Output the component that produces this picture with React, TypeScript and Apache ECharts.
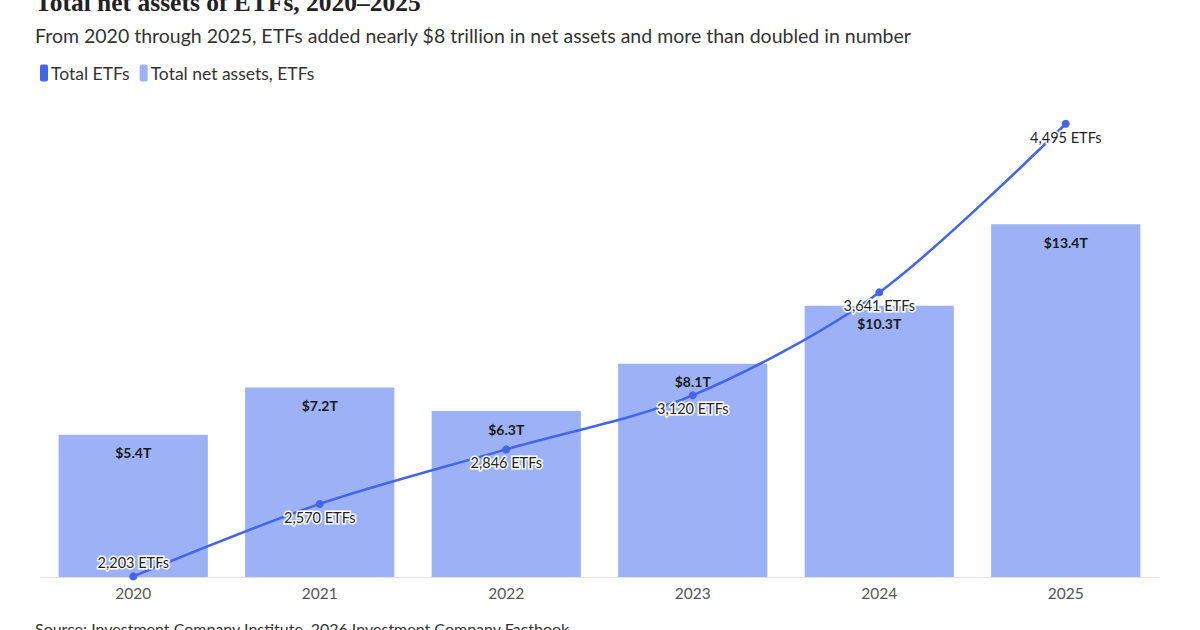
import React, { useEffect, useRef } from "react";
import * as echarts from "echarts";

const years = ["2020", "2021", "2022", "2023", "2024", "2025"];
const netAssets = [5.4, 7.2, 6.3, 8.1, 10.3, 13.4];
const totalEtfs = [2203, 2570, 2846, 3120, 3641, 4495];

const LINE_COLOR = "#4366e8";
const BAR_COLOR = "#9db2f6";
const FONT = "Lato, 'Noto Sans', sans-serif";

export default function App() {
  const ref = useRef<HTMLDivElement>(null);
  useEffect(() => {
    if (!ref.current) return;
    const chart = echarts.init(ref.current, undefined, { renderer: "svg" });
    chart.setOption({
      animation: false,
      backgroundColor: "#ffffff",
      textStyle: { fontFamily: FONT },
      legend: {
        left: 35,
        top: 59,
        icon: "roundRect",
        itemWidth: 8,
        itemHeight: 17,
        itemGap: 10,
        textStyle: { fontSize: 17.5, color: "#333", fontFamily: FONT, padding: [0, 0, 0, -2] },
        data: [
          { name: "Total ETFs", itemStyle: { color: LINE_COLOR } },
          { name: "Total net assets, ETFs", itemStyle: { color: BAR_COLOR } },
        ],
      },
      graphic: [
        {
          type: "text",
          left: 35,
          top: -11,
          style: {
            text: "Total net assets of ETFs, 2020–2025",
            font: "bold 25.5px 'Liberation Serif', serif",
            fill: "#222",
          },
        },
        {
          type: "text",
          left: 35,
          top: 25,
          style: {
            text: "From 2020 through 2025, ETFs added nearly $8 trillion in net assets and more than doubled in number",
            font: `19.5px ${FONT}`,
            fill: "#333",
          },
        },
        {
          type: "text",
          left: 35,
          top: 620,
          style: {
            text: "Source: Investment Company Institute, 2026 Investment Company Factbook",
            font: `16px ${FONT}`,
            fill: "#333",
          },
        },
      ],
      grid: { left: 40, right: 41, top: 103, bottom: 53, containLabel: false },
      xAxis: {
        type: "category",
        data: years,
        axisLine: { lineStyle: { color: "#e3e3e3" } },
        axisTick: { show: false },
        axisLabel: { color: "#555", fontSize: 15.5, margin: 8, fontFamily: FONT },
      },
      yAxis: [
        { type: "value", min: 0, max: 18, show: false, splitLine: { show: false } },
        { type: "value", min: 2200, max: 4600, show: false, splitLine: { show: false } },
      ],
      series: [
        {
          name: "Total net assets, ETFs",
          type: "bar",
          yAxisIndex: 0,
          data: netAssets,
          barCategoryGap: "20%",
          itemStyle: { color: BAR_COLOR },
          label: {
            show: true,
            position: "insideTop",
            distance: 11,
            formatter: (p: any) => `$${p.value.toFixed(1)}T`,
            fontSize: 14,
            fontWeight: "bold",
            color: "#1a1a1a",
            fontFamily: FONT,
          },
          z: 1,
        },
        {
          name: "Total ETFs",
          type: "line",
          yAxisIndex: 1,
          smooth: 0.3,
          symbol: "circle",
          symbolSize: 8,
          lineStyle: { color: LINE_COLOR, width: 2.5 },
          itemStyle: { color: LINE_COLOR },
          data: totalEtfs.map((v, i) => ({
            value: v,
            label: { position: i === 0 ? "top" : "bottom" },
          })),
          label: {
            show: true,
            position: "bottom",
            distance: 2,
            formatter: (p: any) => `${p.value.toLocaleString("en-US")} ETFs`,
            fontSize: 14.5,
            color: "#222",
            fontFamily: FONT,
            textBorderColor: "#ffffff",
            textBorderWidth: 3,
          },
          z: 3,
        },
      ],
    });
    return () => chart.dispose();
  }, []);
  return (
    <div
      ref={ref}
      style={{ position: "absolute", left: 0, top: 0, width: 1200, height: 630 }}
    />
  );
}
